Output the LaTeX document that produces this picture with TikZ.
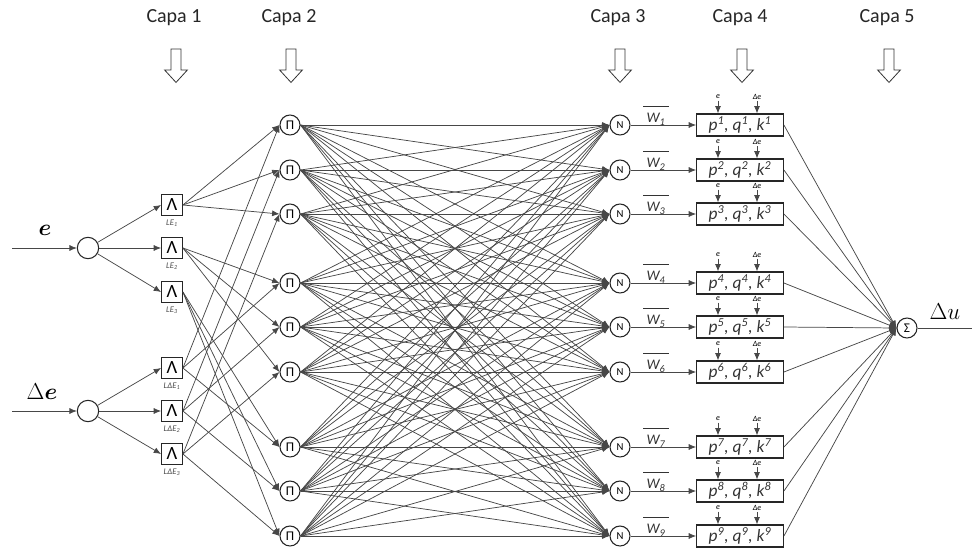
\documentclass[tikz,border=0pt]{standalone}
\usepackage{fontspec}
\setmainfont{Carlito}
\usepackage{amsmath}
\usetikzlibrary{arrows.meta,shapes.arrows}

\newcommand\wbar[1]{\begin{tabular}{@{}c@{}}\rule{19pt}{0.6pt}\\[1pt]\itshape W\textsubscript{#1}\end{tabular}}

\begin{document}
\begin{tikzpicture}[x=0.75pt,y=0.75pt,yscale=-1,xscale=1,
  wire/.style={draw=black!72,line width=0.55pt},
  arr/.style={wire,-{Latex[length=5.5pt,width=4.5pt]}},
  capa/.style={font=\fontsize{15}{18}\selectfont,text=black!85},
  blockarr/.style={draw=black!80,line width=0.6pt,single arrow,rotate=-90,minimum height=25pt,minimum width=16.5pt,inner xsep=0pt,inner ysep=3.5pt,single arrow head extend=4.75pt,single arrow tip angle=85},
  incirc/.style={circle,draw=black!85,line width=0.8pt,minimum size=16pt,inner sep=0pt},
  mfbox/.style={draw=black!85,line width=0.9pt,minimum size=15.5pt,inner sep=0pt,font=\fontsize{14}{14}\selectfont},
  mflab/.style={font=\fontsize{6.5}{6.5}\selectfont\itshape,text=black!70},
  pinode/.style={circle,draw=black!85,line width=0.8pt,minimum size=15pt,inner sep=0pt,font=\fontsize{10}{10}\selectfont},
  nnode/.style={pinode,font=\fontsize{8}{8}\selectfont},
  rulebox/.style={draw=black!85,line width=0.9pt,minimum width=65pt,minimum height=16.5pt,inner sep=0pt,font=\fontsize{13}{13}\selectfont\itshape,text=black!80},
  wlab/.style={font=\fontsize{11}{11}\selectfont,text=black!80,inner sep=0pt},
  smlab/.style={font=\fontsize{6}{6}\selectfont\itshape,inner sep=1pt},
  biglab/.style={font=\fontsize{17}{17}\selectfont}
]
\useasboundingbox (0,0) rectangle (972,550);

%Layer titles
\foreach \x/\t [count=\c] in {174/1,289/2,618/3,740/4,887/5} {
  \node[capa] (capa\c) at (\x,18) {Capa \t};
  \node[blockarr] (down\c) at (\x+2,63) {};
}

%Inputs
\node[incirc] (in1) at (88,248) {};
\node[incirc] (in2) at (88,411) {};
\coordinate (ein) at (12,248);
\coordinate (dein) at (12,411);
\node[biglab] (elab) at (45,230) {$\boldsymbol{e}$};
\node[biglab] (delab) at (42,392) {$\Delta \boldsymbol{e}$};
\draw[arr] (ein) -- (in1);
\draw[arr] (dein) -- (in2);

%Layer 1
\foreach \y [count=\a] in {205,248,292} {
  \node[mfbox] (le\a) at (172,\y) {Λ};
  \node[mflab] (lel\a) at (172,\y+18) {LE\textsubscript{\a}};
  \draw[arr] (in1) -- (le\a.west);
}
\foreach \y [count=\b] in {368,411,454} {
  \node[mfbox] (ld\b) at (172,\y) {Λ};
  \node[mflab] (ldl\b) at (172,\y+18) {LΔE\textsubscript{\b}};
  \draw[arr] (in2) -- (ld\b.west);
}

%Layers 2, 3, 4
\foreach \y [count=\k] in {125,170,214,283,327,372,447,491,536} {
  \node[pinode] (p\k) at (290,\y) {Π};
  \node[nnode] (n\k) at (620,\y) {N};
  \node[rulebox] (r\k) at (740,\y) {p\textsuperscript{\k}, q\textsuperscript{\k}, k\textsuperscript{\k}};
  \node[wlab] (w\k) at (656,\y-13) {\wbar{\k}};
  \node[smlab] (e\k) at (718,\y-28) {e};
  \node[smlab] (de\k) at (757,\y-28) {Δe};
  \draw[arr] (e\k) -- (e\k |- r\k.north);
  \draw[arr] (de\k) -- (de\k |- r\k.north);
  \draw[arr] (n\k) -- (r\k.west);
}

\foreach \a in {1,2,3} {
  \foreach \b in {1,2,3} {
    \pgfmathtruncatemacro\k{3*(\a-1)+\b}
    \draw[arr] (le\a.east) -- (p\k.west);
    \draw[arr] (ld\b.east) -- (p\k.west);
  }
}

\foreach \i in {1,...,9}
  \foreach \j in {1,...,9}
    \draw[arr] (p\i.east) -- (n\j.west);

%Layer 5
\node[pinode] (sig) at (907,328) {Σ};
\coordinate (uout) at (972,328);
\node[biglab] (ulab) at (945,312) {$\Delta u$};
\foreach \k in {1,...,9}
  \draw[arr] (r\k.east) -- (sig.west);
\draw[wire] (sig) -- (uout);

\end{tikzpicture}
\end{document}
